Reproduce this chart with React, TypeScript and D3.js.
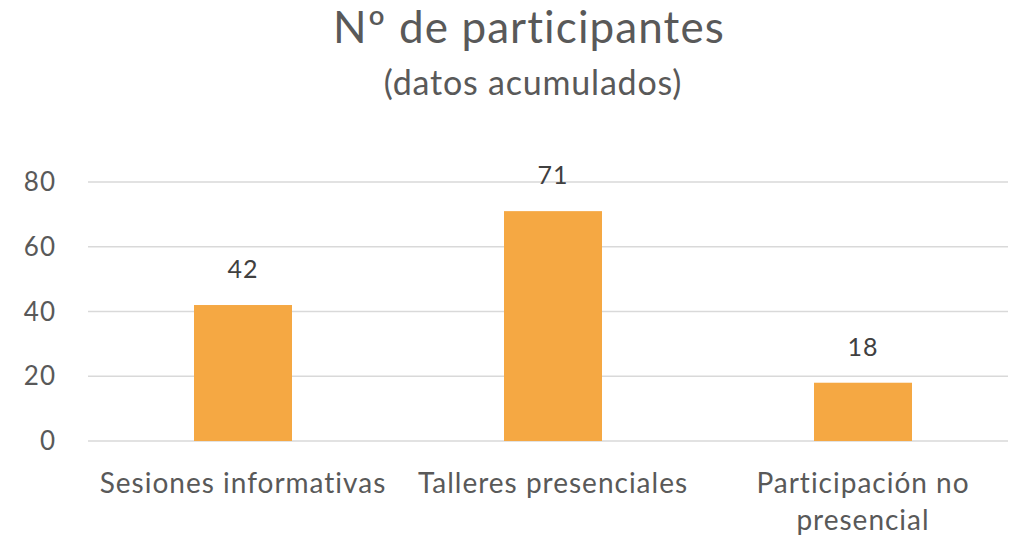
import React from "react";
import * as d3 from "d3";

const categories: string[][] = [["Sesiones informativas"], ["Talleres presenciales"], ["Participación no", "presencial"]];
const values: number[] = [42, 71, 18];
const yTicks: number[] = [0, 20, 40, 60, 80];

const W = 1011;
const H = 539;
const FONT = "Lato, 'Open Sans', sans-serif";
const TXT = "#595959";

export default function App() {
  const x = d3.scaleBand<number>().domain(d3.range(values.length)).range([88, 1018]).paddingInner(0.684).paddingOuter(0.342);
  const y = d3.scaleLinear().domain([0, 80]).range([441, 182]);
  const bw = 98;
  return (
    <svg width={W} height={H} style={{ position: "absolute", left: 0, top: 0, background: "#fff" }}>
      <text x={529} y={43} textAnchor="middle" fontFamily={FONT} fontSize={44} letterSpacing={1.1} fill={TXT}>Nº de participantes</text>
      <text x={533} y={95} textAnchor="middle" fontFamily={FONT} fontSize={34} letterSpacing={0.8} fill={TXT}>(datos acumulados)</text>
      {yTicks.map((t) => (
        <g key={t}>
          <line x1={88} x2={1008} y1={y(t)} y2={y(t)} stroke="#d9d9d9" strokeWidth={1.3} />
          <text x={56} y={y(t) + 9} textAnchor="end" fontFamily={FONT} fontSize={26} letterSpacing={1} fill={TXT}>{t}</text>
        </g>
      ))}
      {values.map((v, i) => {
        const cx = (x(i) as number) + x.bandwidth() / 2;
        return (
          <g key={i}>
            <rect x={cx - bw / 2} y={y(v)} width={bw} height={y(0) - y(v)} fill="#F5A843" />
            <text x={cx} y={y(v) - 27} textAnchor="middle" fontFamily={FONT} fontSize={25} letterSpacing={1} fill="#404040">{v}</text>
            {categories[i].map((line, j) => (
              <text key={j} x={cx} y={493 + j * 37} textAnchor="middle" fontFamily={FONT} fontSize={28} letterSpacing={1} fill={TXT}>{line}</text>
            ))}
          </g>
        );
      })}
    </svg>
  );
}
